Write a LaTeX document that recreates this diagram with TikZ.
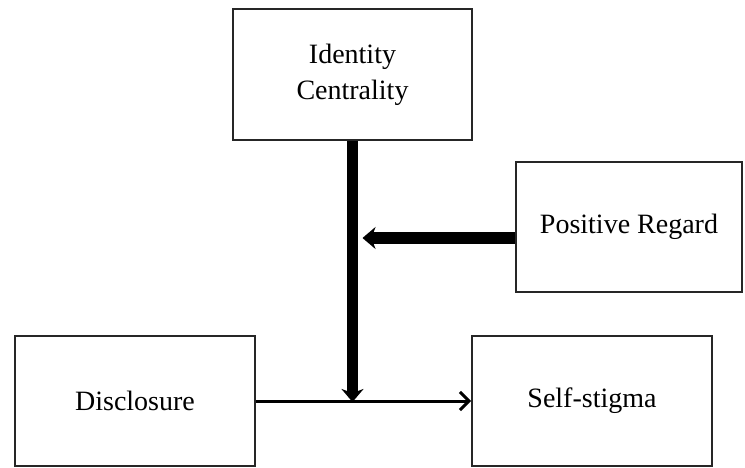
\documentclass[tikz,border=0pt]{standalone}
\usepackage{fontspec}
\setmainfont{Liberation Serif}
\usetikzlibrary{arrows.meta}
\begin{document}
\begin{tikzpicture}[x=1pt,y=-1pt,
  box/.style={draw=black!85,line width=2pt,fill=white,font=\fontsize{28}{36}\selectfont,align=center,inner sep=0pt},
  thin/.style={line width=3pt,-{Straight Barb[length=9pt,width=18pt,line width=3pt]}},
  thick/.style={line width=11pt,-{Stealth[length=13pt,width=22pt,inset=4pt]}}]
\useasboundingbox (0,0) rectangle (745,468);
\node[box,minimum width=239pt,minimum height=131pt] (ic) at (352.5,74.5) {Identity\\Centrality};
\node[box,minimum width=226pt,minimum height=130pt] (pr) at (629,227) {Positive Regard};
\node[box,minimum width=240pt,minimum height=130pt] (di) at (135,401) {Disclosure};
\node[box,minimum width=240pt,minimum height=130pt] (ss) at (592,401) {Self-stigma};
\coordinate (j) at (352.5,401);
\coordinate (m) at (352.5,238);
\draw[thin] (di.east) -- (ss.west);
\draw[thick] (ic.south) -- ([yshift=-1pt]j);
\draw[thick] (pr.west |- m) -- ([xshift=10pt]m);
\end{tikzpicture}
\end{document}
